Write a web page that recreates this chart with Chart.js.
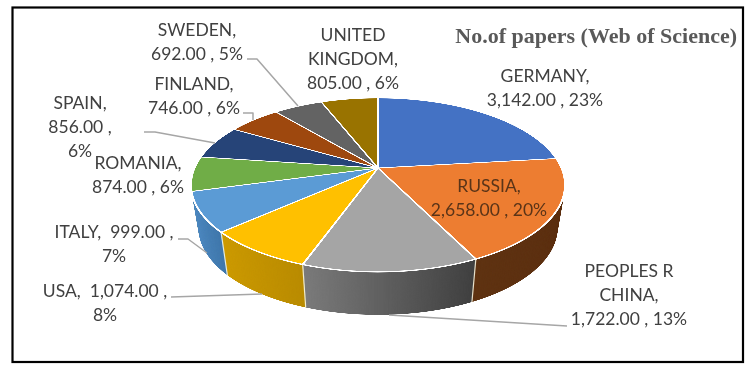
<!DOCTYPE html>
<html>
<head>
<meta charset="utf-8">
<style>html,body{margin:0;padding:0;background:#fff}canvas{display:block}</style>
<script src="https://cdn.jsdelivr.net/npm/chart.js@4"></script>
</head>
<body>
<canvas id="c" width="751" height="376"></canvas>
<script>
const categories = ['GERMANY','RUSSIA','PEOPLES R CHINA','USA','ITALY','ROMANIA','SPAIN','FINLAND','SWEDEN','UNITED KINGDOM'];
const papers = [3142,2658,1722,1074,999,874,856,746,692,805];
const topColors = ['#4472C4','#ED7D31','#A5A5A5','#FFC000','#5B9BD5','#70AD47','#264478','#9E480E','#636363','#997300'];
const sideFrom = ['#2f5597','#5f3312','#7b7b7b','#cc9a00','#4f8ac2','#4f7d32','#1a2f55','#6e320a','#444444','#6b5000'];
const sideTo   = ['#2f5597','#5c2f10','#404040','#b98b00','#3f77ab','#4f7d32','#1a2f55','#6e320a','#444444','#6b5000'];
const chartTitle = 'No.of papers (Web of Science)';
const labelLines = [
  ['GERMANY,','3,142.00 , 23%'],
  ['RUSSIA,','2,658.00 , 20%'],
  ['PEOPLES R','CHINA,','1,722.00 , 13%'],
  ['USA,  1,074.00 ,','8%'],
  ['ITALY,  999.00 ,','7%'],
  ['ROMANIA,','874.00 , 6%'],
  ['SPAIN,','856.00 ,','6%'],
  ['FINLAND,','746.00 , 6%'],
  ['SWEDEN,','692.00 , 5%'],
  ['UNITED','KINGDOM,','805.00 , 6%']
];
// layout (pixels)
const labelPos = [[545,76],[489,186],[629,271],[105,291],[114,232],[138,163],[80,103],[194,84],[197,30],[353,35]];
const labelColor = ['#404040','#5a3418','#404040','#404040','#404040','#404040','#404040','#404040','#404040','#404040'];
const leaders = [
  [[247,59],[257,59],[298,106]],
  [[243,113],[253,113],[253,120]],
  [[144,132],[155,132],[215,143]],
  [[178,239],[188,239],[207,253]],
  [[171,297],[262,294]],
  [[567,326],[389,315]]
];
// projection of the flat pie into the tilted view
const X0=378, Y0=168, A=183.4, B=83.6, Q=0.195, DEPTH=43, BOTTOM_K=0.96, SS=3;

function projectRows(out, arcs, cx, cy, R, paint){
  const W=out.canvas.width, H=out.canvas.height;
  for(let r=0;r<H;r++){
    const d=(r+.5)/SS, t=d-Y0, v=t/(B+Q*t);
    if(Math.abs(v)>1.03) continue;
    const w=1-Q*v, sx=A/(R*w), sy=B/(w*w*R), Yv=cy+R*v;
    out.save();
    out.setTransform(1,0,0,1,0,0);
    out.beginPath(); out.rect(0,r,W,1); out.clip();
    out.setTransform(SS*sx,0,0,SS*sy,SS*(X0-sx*cx),SS*d-SS*sy*Yv);
    arcs.forEach((a,i)=>paint(a,i,out));
    out.restore();
  }
}
function layer(){
  const c=document.createElement('canvas');
  c.width=751*SS; c.height=376*SS;
  return c.getContext('2d');
}
const pie3d = {
  id:'pie3d',
  beforeDraw(chart){
    const ctx=chart.ctx;
    ctx.save();
    ctx.fillStyle='#fff'; ctx.fillRect(0,0,751,376);
    ctx.strokeStyle='#000'; ctx.lineWidth=2.2;
    ctx.strokeRect(12.5,7.5,730.5,354.5);
    ctx.restore();
  },
  beforeDatasetDraw(chart,args){
    const ctx=chart.ctx, arcs=args.meta.data;
    const cx=arcs[0].x, cy=arcs[0].y, R=arcs[0].outerRadius;
    // side wall
    const side=layer();
    const sideFills=arcs.map((a,i)=>{
      const x1=cx+R*Math.cos(a.startAngle), x2=cx+R*Math.cos(a.endAngle);
      const g=side.createLinearGradient(Math.min(x1,x2),0,Math.max(x1,x2)+.01,0);
      g.addColorStop(0,sideFrom[i]); g.addColorStop(1,sideTo[i]);
      return g;
    });
    projectRows(side,arcs,cx,cy,R,(a,i,o)=>{
      const opt=a.options;
      a.options=Object.assign({},opt,{backgroundColor:sideFills[i],borderWidth:0});
      a.draw(o);
      a.options=opt;
    });
    ctx.save();
    ctx.imageSmoothingEnabled=true;
    for(let d=DEPTH;d>0;d-=.5){
      const k=1-(1-BOTTOM_K)*d/DEPTH;
      ctx.drawImage(side.canvas,X0-X0*k,d,751*k,376);
    }
    // vertical light seams on the front of the wall
    ctx.strokeStyle='rgba(255,255,235,.85)'; ctx.lineWidth=1.2;
    arcs.forEach(a=>{
      const ux=Math.cos(a.startAngle), uy=Math.sin(a.startAngle);
      if(uy<0.35) return;
      const w=1-Q*uy, px=X0+A*ux/w, py=Y0+B*uy/w;
      ctx.beginPath(); ctx.moveTo(px,py);
      ctx.lineTo(X0+(px-X0)*BOTTOM_K,py+DEPTH); ctx.stroke();
    });
    // top surface
    const top=layer();
    projectRows(top,arcs,cx,cy,R,(a,i,o)=>a.draw(o));
    ctx.drawImage(top.canvas,0,0,751,376);
    ctx.restore();
    return false;
  },
  afterDatasetsDraw(chart){
    const ctx=chart.ctx;
    ctx.save();
    ctx.strokeStyle='#a6a6a6'; ctx.lineWidth=1.5; ctx.lineJoin='round';
    leaders.forEach(l=>{
      ctx.beginPath();
      l.forEach((p,i)=>i?ctx.lineTo(p[0],p[1]):ctx.moveTo(p[0],p[1]));
      ctx.stroke();
    });
    ctx.font='17.5px Lato, "Open Sans", sans-serif';
    ctx.textAlign='center'; ctx.textBaseline='middle';
    labelLines.forEach((lines,i)=>{
      ctx.fillStyle=labelColor[i];
      lines.forEach((s,j)=>ctx.fillText(s,labelPos[i][0],labelPos[i][1]+j*24.3));
    });
    ctx.restore();
  }
};
new Chart(document.getElementById('c'),{
  type:'pie',
  data:{labels:categories,datasets:[{data:papers,backgroundColor:topColors,borderColor:'#fff',borderWidth:1.6}]},
  plugins:[pie3d],
  options:{
    responsive:false,animation:false,
    layout:{padding:{right:14}},
    events:[],
    plugins:{
      legend:{display:false},tooltip:{enabled:false},
      title:{display:true,text:chartTitle,align:'end',color:'#595959',
        font:{family:'"Liberation Serif",serif',size:22,weight:'bold'},padding:{top:24,bottom:0}}
    }
  }
});
</script>
</body>
</html>
